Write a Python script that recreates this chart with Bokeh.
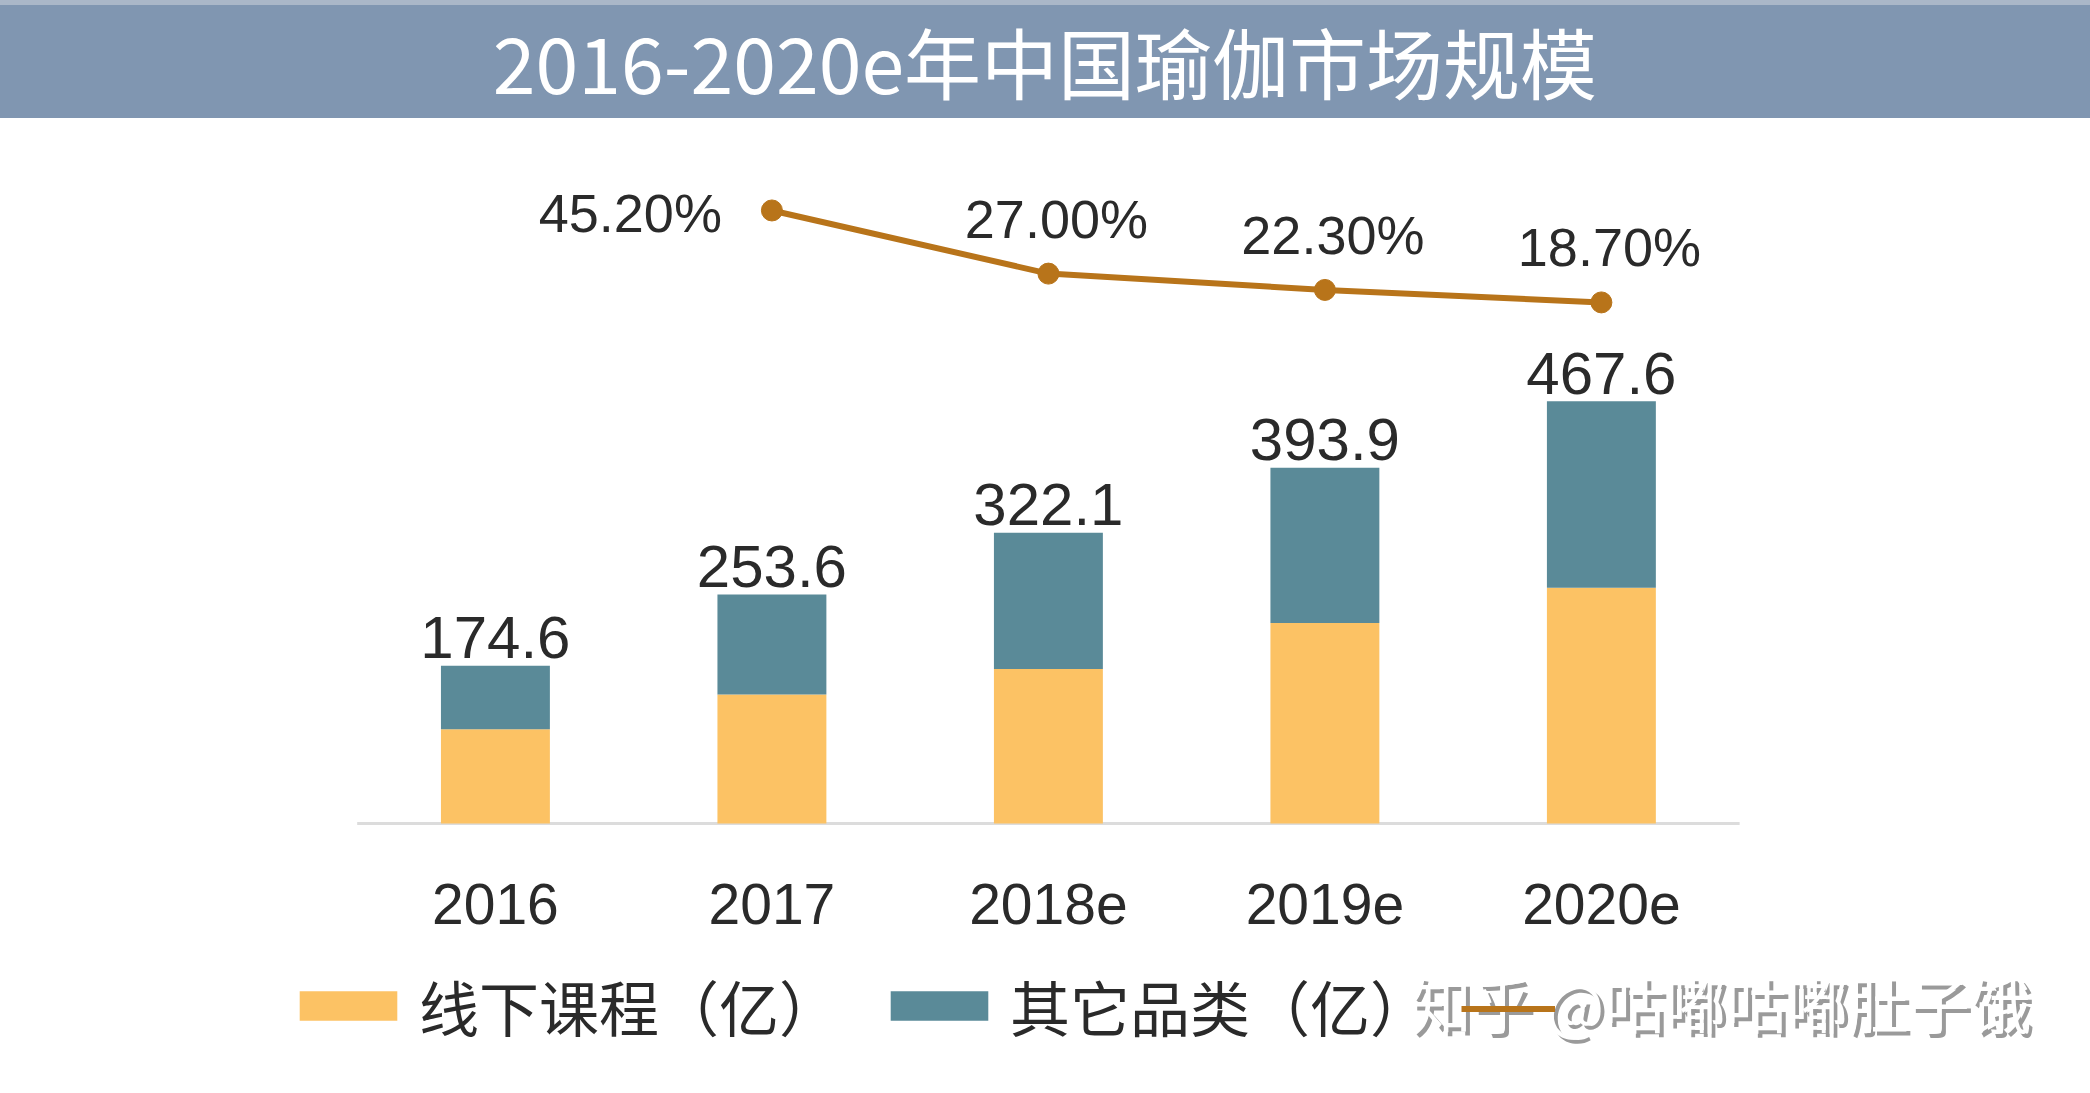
from bokeh.plotting import figure
from bokeh.models import (ColumnDataSource, Range1d, Legend, LegendItem, Label, Div)
from bokeh.layouts import column
from bokeh.embed import file_html
from bokeh.resources import INLINE
from bokeh.core.properties import value

# ---------------- data ----------------
years = ["2016", "2017", "2018e", "2019e", "2020e"]
offline = [104.5, 143.0, 171.0, 222.0, 261.0]      # 线下课程（亿）
other = [70.1, 110.6, 151.1, 171.9, 206.6]         # 其它品类（亿）
totals = [174.6, 253.6, 322.1, 393.9, 467.6]       # bar total labels
growth_years = ["2017", "2018e", "2019e", "2020e"]
growth = [45.2, 27.0, 22.3, 18.7]                  # growth rate (%)
series_names = ["线下课程（亿）", "其它品类（亿）"]
title_text = "2016-2020e年中国瑜伽市场规模"
watermark_text = "知乎 @咕嘟咕嘟肚子饿"

# ---------------- style ----------------
ORANGE = "#FCC264"
TEAL = "#5A8A98"
LINE = "#B8741A"
TEXT = "#2a2a2a"
TITLE_BG = "#8096B1"
NUM_FONT = value("Liberation Sans")
CJK_FONT = "Noto Sans CJK SC"

W = 2090
TITLE_H = 118
FIG_H = 975

idx = list(range(len(years)))
gx = [years.index(y) for y in growth_years]

src = ColumnDataSource(dict(
    x=idx, offline=offline, other=other, total=totals, year=years,
    total_label=[f"{v:.1f}" for v in totals],
))
gsrc = ColumnDataSource(dict(x=gx, g=growth))
gsrc_first = ColumnDataSource(dict(x=gx[:1], g=growth[:1],
                                   label=[f"{v:.2f}%" for v in growth[:1]]))
gsrc_rest = ColumnDataSource(dict(x=gx[1:], g=growth[1:],
                                  label=[f"{v:.2f}%" for v in growth[1:]]))

p = figure(width=W, height=FIG_H, output_backend="svg", toolbar_location=None,
           x_range=Range1d(-1.790, 5.769), y_range=Range1d(-299.0, 771.9),
           x_axis_location=None, y_axis_location=None,
           min_border_left=0, min_border_right=0,
           min_border_top=8, min_border_bottom=0)
p.extra_y_ranges = {"pct": Range1d(-209.3, 69.4)}
p.outline_line_color = None
p.xgrid.visible = False
p.ygrid.visible = False
p.background_fill_color = "white"
p.border_fill_color = "white"

# baseline (category axis line)
p.segment(x0=[idx[0] - 0.5], x1=[idx[-1] + 0.5], y0=[0], y1=[0],
          line_color="#dcdcdc", line_width=3)

# category labels
p.text(x="x", y=0, text="year", source=src, text_align="center",
       text_baseline="middle", y_offset=80, text_font=NUM_FONT,
       text_font_size="57px", text_color=TEXT)

# stacked bars
bars = p.vbar_stack(["offline", "other"], x="x", width=0.394, color=[ORANGE, TEAL],
                    line_color=None, source=src)

# total labels
p.text(x="x", y="total", text="total_label", source=src, text_align="center",
       text_baseline="alphabetic", y_offset=-28, text_font=NUM_FONT,
       text_font_size="60px", text_color=TEXT)

# growth line
line_r = p.line(x="x", y="g", source=gsrc, y_range_name="pct", line_color=LINE,
                line_width=6)
p.scatter(x="x", y="g", source=gsrc, y_range_name="pct", size=21,
          fill_color=LINE, line_color=LINE)

p.text(x="x", y="g", text="label", source=gsrc_first, y_range_name="pct",
       text_align="right", text_baseline="middle", x_offset=-50, y_offset=3,
       text_font=NUM_FONT, text_font_size="54px", text_color=TEXT)
p.text(x="x", y="g", text="label", source=gsrc_rest, y_range_name="pct",
       text_align="center", text_baseline="alphabetic", x_offset=8, y_offset=-55,
       text_font=NUM_FONT, text_font_size="54px", text_color=TEXT)

# legend (inside the frame, below the category labels)
legend_kw = dict(orientation="horizontal", label_standoff=10,
                 label_text_font=CJK_FONT, label_text_font_size="60px",
                 label_text_color=TEXT, border_line_color=None,
                 background_fill_alpha=0, padding=0, margin=0)
legend = Legend(items=[LegendItem(label=series_names[0], renderers=[bars[0]]),
                       LegendItem(label=series_names[1], renderers=[bars[1]])],
                location=(287, 44), glyph_width=122, glyph_height=37, spacing=39,
                **legend_kw)
p.add_layout(legend, "center")
# line swatch of the third legend entry (its label is hidden by the watermark)
legend_line = Legend(items=[LegendItem(label=" ", renderers=[line_r])],
                     location=(1461, 66), glyph_width=94, glyph_height=37,
                     **legend_kw)
p.add_layout(legend_line, "center")

# watermark (shadow + white)
wm_shadow = Label(x=1414, y=87, x_units="screen", y_units="screen",
                  text=watermark_text, text_font=CJK_FONT, text_font_size="61px",
                  text_color="#9a9a9a", text_baseline="middle", level="overlay")
wm = Label(x=1410, y=91, x_units="screen", y_units="screen",
           text=watermark_text, text_font=CJK_FONT, text_font_size="61px",
           text_color="white", text_baseline="middle", level="overlay")
p.add_layout(wm_shadow)
p.add_layout(wm)

title = Div(text=title_text, width=W, height=TITLE_H, margin=0,
            styles={"background-color": TITLE_BG, "color": "white",
                    "font-family": "'Noto Sans CJK SC'", "font-size": "77px",
                    "text-align": "center", "line-height": "122px",
                    "overflow": "hidden",
                    "box-shadow": "inset 0 5px 0 #aab7c8",
                    "width": f"{W}px", "height": f"{TITLE_H}px"})

layout = column(title, p, spacing=0, margin=0)

open("out.html", "w").write(file_html(layout, INLINE))
